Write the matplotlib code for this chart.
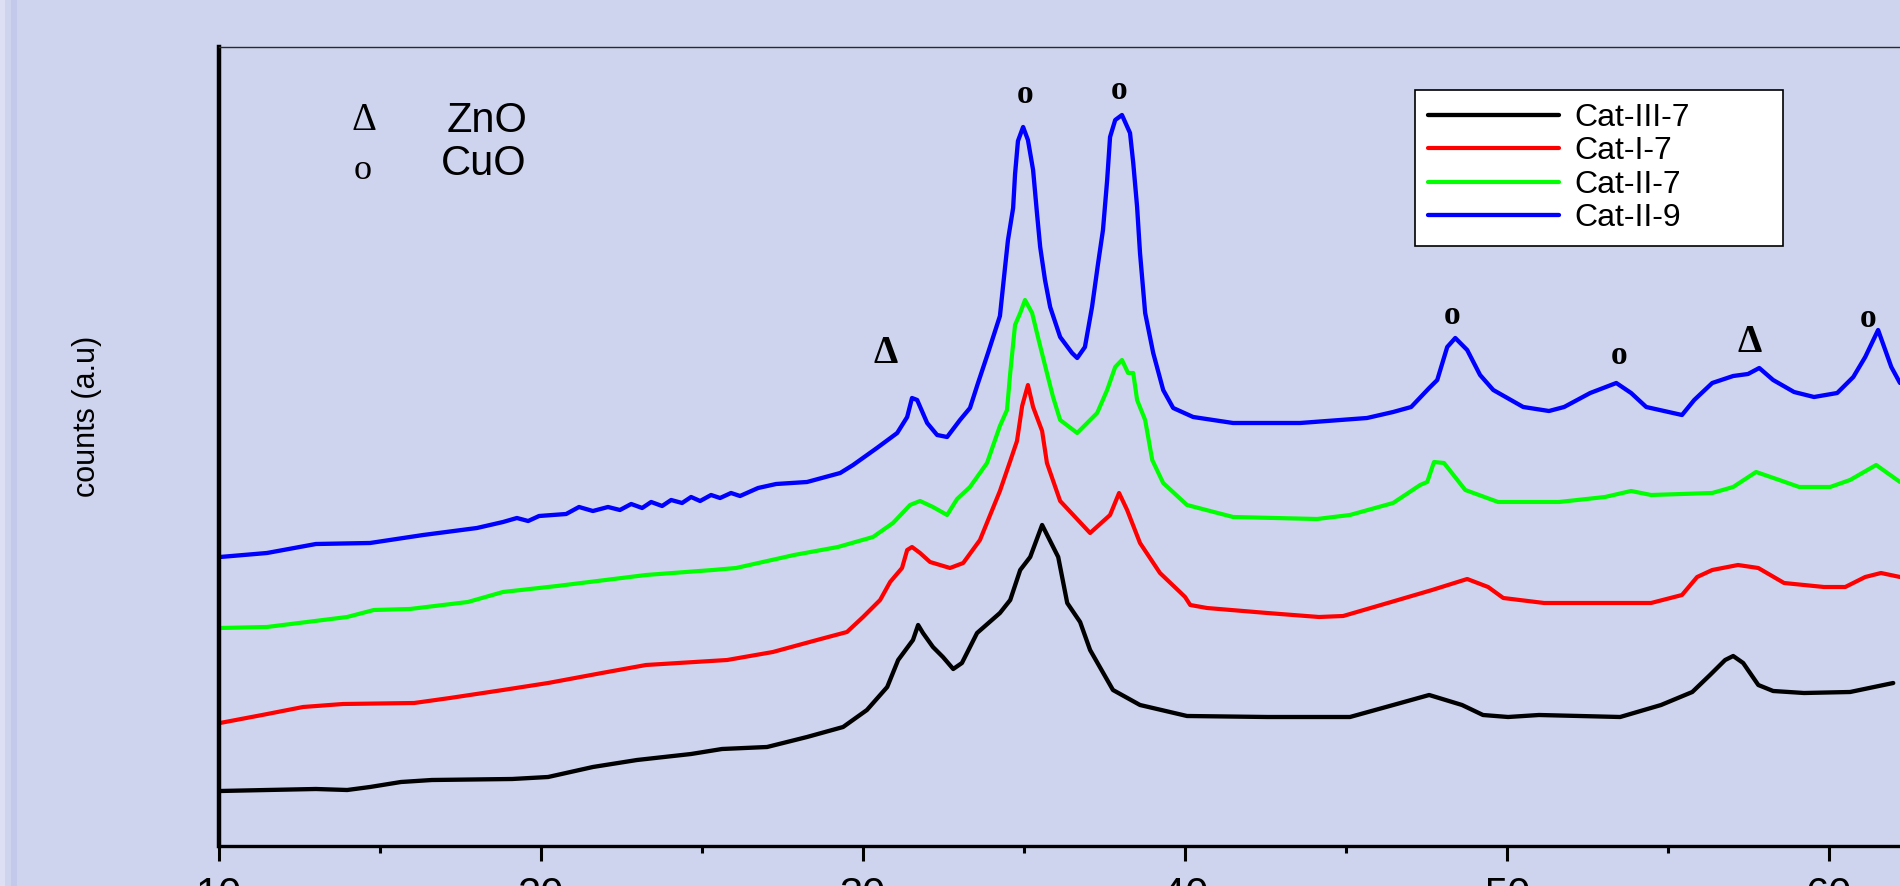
import matplotlib
matplotlib.use("Agg")
import matplotlib.pyplot as plt
from matplotlib.patches import Rectangle
from matplotlib.ticker import MultipleLocator

# 2-theta (deg) and counts (a.u., offset traces)
black_x = [10.03, 11.49, 13.01, 13.98, 14.69, 15.65, 16.61, 19.10, 20.22, 21.61, 22.98, 24.66, 25.62, 27.02, 28.26,
           29.38, 30.12, 30.75, 31.09, 31.55, 31.71, 31.86, 32.17, 32.48, 32.80, 33.07, 33.54, 34.25, 34.57, 34.88,
           35.19, 35.56, 36.06, 36.34, 36.74, 37.05, 37.76, 38.60, 40.06, 42.55, 45.12, 46.24, 47.58, 48.60, 49.25,
           50.03, 50.99, 53.51, 54.78, 55.75, 56.30, 56.77, 57.02, 57.33, 57.80, 58.26, 59.22, 60.65, 61.99]
black_y = [55, 56, 57, 56, 59, 64, 66, 67, 69, 79, 86, 92, 97, 99, 109,
           119, 136, 159, 186, 206, 221, 213, 199, 189, 177, 183, 213, 233, 246, 276,
           289, 321, 289, 243, 224, 196, 156, 141, 130, 129, 129, 139, 151, 141, 131,
           129, 131, 129, 141, 154, 171, 186, 190, 183, 161, 155, 153, 154, 163]

red_x = [10.03, 11.34, 12.61, 13.85, 16.06, 17.17, 18.82, 20.22, 21.89, 23.26, 25.78, 27.20, 28.57, 29.50, 30.00,
         30.53, 30.84, 31.21, 31.37, 31.52, 31.77, 32.08, 32.70, 33.11, 33.63, 34.25, 34.57, 34.78, 34.94, 35.12,
         35.28, 35.56, 35.71, 36.12, 37.05, 37.67, 37.95, 38.20, 38.60, 39.22, 39.84, 40.00, 40.16, 40.68, 42.55,
         44.16, 44.91, 46.40, 47.67, 48.76, 49.41, 49.88, 51.15, 54.47, 55.43, 55.90, 56.37, 57.17, 57.80, 58.60,
         59.84, 60.50, 61.12, 61.61, 62.20]
red_y = [123, 131, 139, 142, 143, 148, 156, 163, 173, 181, 186, 194, 206, 214, 229,
         246, 264, 278, 296, 299, 293, 284, 278, 283, 306, 355, 385, 405, 440, 461,
         439, 415, 383, 345, 313, 331, 353, 336, 303, 273, 254, 249, 241, 238, 233,
         229, 230, 244, 256, 267, 259, 248, 243, 243, 251, 269, 276, 281, 278, 263,
         259, 259, 269, 273, 269]

green_x = [10.03, 11.49, 13.98, 14.81, 15.93, 17.73, 18.82, 20.50, 23.26, 25.34, 26.06, 27.86, 29.22, 30.31, 30.93,
           31.46, 31.77, 32.17, 32.61, 32.92, 33.32, 33.85, 34.25, 34.47, 34.57, 34.72, 34.88, 35.03, 35.25, 35.43,
           35.71, 35.90, 36.12, 36.65, 37.27, 37.58, 37.83, 38.04, 38.23, 38.39, 38.51, 38.76, 38.98, 39.32, 40.06,
           41.49, 44.10, 45.12, 46.46, 47.30, 47.52, 47.73, 48.04, 48.70, 49.72, 51.61, 53.04, 53.85, 54.47, 56.37,
           57.02, 57.73, 58.45, 59.07, 60.03, 60.65, 61.46, 62.20]
green_y = [218, 219, 229, 236, 237, 244, 254, 260, 271, 276, 278, 291, 299, 309, 323,
           341, 345, 339, 331, 347, 359, 383, 420, 436, 473, 521, 533, 546, 533, 509,
           473, 449, 426, 413, 433, 456, 479, 486, 473, 473, 446, 426, 386, 363, 341,
           329, 327, 331, 343, 361, 364, 384, 383, 356, 344, 344, 349, 355, 351, 353,
           359, 374, 366, 359, 359, 366, 381, 364]

blue_x = [10.03, 11.49, 13.01, 14.69, 16.34, 18.01, 18.82, 19.25, 19.60, 19.94,
          20.78, 21.18, 21.61, 22.08, 22.45, 22.80, 23.14, 23.42, 23.76, 24.04,
          24.38, 24.66, 24.94, 25.28, 25.56, 25.90, 26.18, 26.74, 27.30, 28.26,
          29.29, 29.69, 30.43, 31.06, 31.37, 31.52, 31.68, 31.99, 32.30, 32.61,
          33.01, 33.32, 33.57, 33.88, 34.04, 34.25, 34.41, 34.50, 34.66, 34.72,
          34.81, 34.97, 35.12, 35.28, 35.40, 35.50, 35.65, 35.81, 36.12, 36.49,
          36.65, 36.89, 37.11, 37.30, 37.45, 37.58, 37.67, 37.83, 38.04, 38.29,
          38.39, 38.51, 38.60, 38.76, 39.01, 39.32, 39.63, 40.25, 41.49, 43.57,
          45.65, 46.46, 47.02, 47.58, 47.83, 48.14, 48.39, 48.76, 49.16, 49.57,
          50.50, 51.30, 51.77, 52.58, 53.39, 53.85, 54.32, 55.43, 55.81, 56.37,
          57.02, 57.48, 57.83, 58.26, 58.91, 59.53, 60.25, 60.75, 61.12, 61.52,
          61.93, 62.20]
blue_y = [289, 293, 302, 303, 311, 318, 324, 328, 325, 330,
          332, 339, 335, 339, 336, 342, 338, 344, 340, 346,
          343, 349, 345, 351, 348, 353, 350, 358, 362, 364,
          373, 381, 398, 413, 429, 448, 446, 423, 411, 409,
          426, 438, 463, 493, 509, 530, 579, 606, 638, 672,
          705, 719, 706, 676, 633, 599, 566, 539, 509, 493,
          488, 499, 539, 583, 616, 666, 709, 726, 731, 713,
          683, 639, 593, 533, 493, 456, 438, 429, 423, 423,
          428, 434, 439, 458, 466, 499, 508, 496, 471, 456,
          439, 435, 439, 453, 463, 453, 439, 431, 446, 463,
          470, 472, 478, 466, 454, 449, 453, 469, 489, 516,
          479, 463]

series_names = ["Cat-III-7", "Cat-I-7", "Cat-II-7", "Cat-II-9"]

# peak assignments drawn above the traces
peak_x = [30.71, 35.03, 37.95, 48.29, 53.48, 57.52, 61.21]
peak_y = [483, 743, 747, 522, 482, 494, 519]
peak_sym = ["\u0394", "o", "o", "o", "o", "\u0394", "o"]

key_sym = ["\u0394", "o"]
key_phase = ["ZnO", "CuO"]
key_sym_x = [14.50, 14.47]
key_sym_y = [716, 667]
key_text_x = [18.32, 18.23]
key_text_y = [714, 671]

bg = "#CFD4EE"
plt.rcParams["font.family"] = ["Liberation Sans", "DejaVu Sans"]
serif = ["Liberation Serif", "DejaVu Serif"]

fig = plt.figure(figsize=(19, 8.86), dpi=100)
fig.patch.set_facecolor(bg)
fig.add_artist(Rectangle((0, 0), 5 / 1900, 1, transform=fig.transFigure, color="#DDE0F4", lw=0))
fig.add_artist(Rectangle((11 / 1900, 0), 6 / 1900, 1, transform=fig.transFigure, color="#C3C9EA", lw=0))

ax = fig.add_axes([219 / 1900, 40 / 886, 1681 / 1900, 799 / 886])
ax.set_facecolor(bg)

style = dict(solid_joinstyle="round", solid_capstyle="round")
ax.plot(black_x, black_y, color="black", lw=3.1, label=series_names[0], **style)
ax.plot(red_x, red_y, color="#FF0000", lw=3.0, label=series_names[1], **style)
ax.plot(green_x, green_y, color="#00FF00", lw=3.0, label=series_names[2], **style)
ax.plot(blue_x, blue_y, color="#0000FF", lw=3.1, label=series_names[3], **style)

for x, y, s in zip(peak_x, peak_y, peak_sym):
    size = 28 if s == "\u0394" else 24
    ax.text(x, y, s, family=serif, fontsize=size, fontweight="bold",
            ha="center", va="baseline", color="black")

for i in range(2):
    ax.text(key_sym_x[i], key_sym_y[i], key_sym[i], family=serif, fontsize=28 if i == 0 else 26,
            ha="center", va="baseline")
    ax.text(key_text_x[i], key_text_y[i], key_phase[i], fontsize=30, ha="center", va="baseline")

ax.set_xlim(10, 62.2)
ax.set_ylim(0, 799)
ax.xaxis.set_major_locator(MultipleLocator(10))
ax.xaxis.set_minor_locator(MultipleLocator(5))
ax.set_yticks([])
ax.tick_params(axis="x", which="major", direction="out", length=10.8, width=2.2, pad=11, labelsize=30)
ax.tick_params(axis="x", which="minor", direction="out", length=5, width=2.2)

ax.spines["right"].set_visible(False)
ax.spines["left"].set_linewidth(3.2)
ax.spines["bottom"].set_linewidth(2.4)
ax.spines["top"].set_linewidth(1.0)
ax.spines["top"].set_color("#2a2a2a")

ax.set_ylabel("counts (a.u)", fontsize=22, va="center")
ax.yaxis.set_label_coords(-0.0785, 0.538)

leg = ax.legend(loc="upper left", bbox_to_anchor=(0.7115, 0.7534, 0.2189, 0.1927), mode="expand",
                fontsize=23, frameon=True, fancybox=False, edgecolor="black", framealpha=1,
                handlelength=4.1, handletextpad=0.5, labelspacing=0.11, borderpad=0.4, borderaxespad=0)
leg.get_frame().set_linewidth(1.2)

fig.savefig("out.png", dpi=100, facecolor=bg)
